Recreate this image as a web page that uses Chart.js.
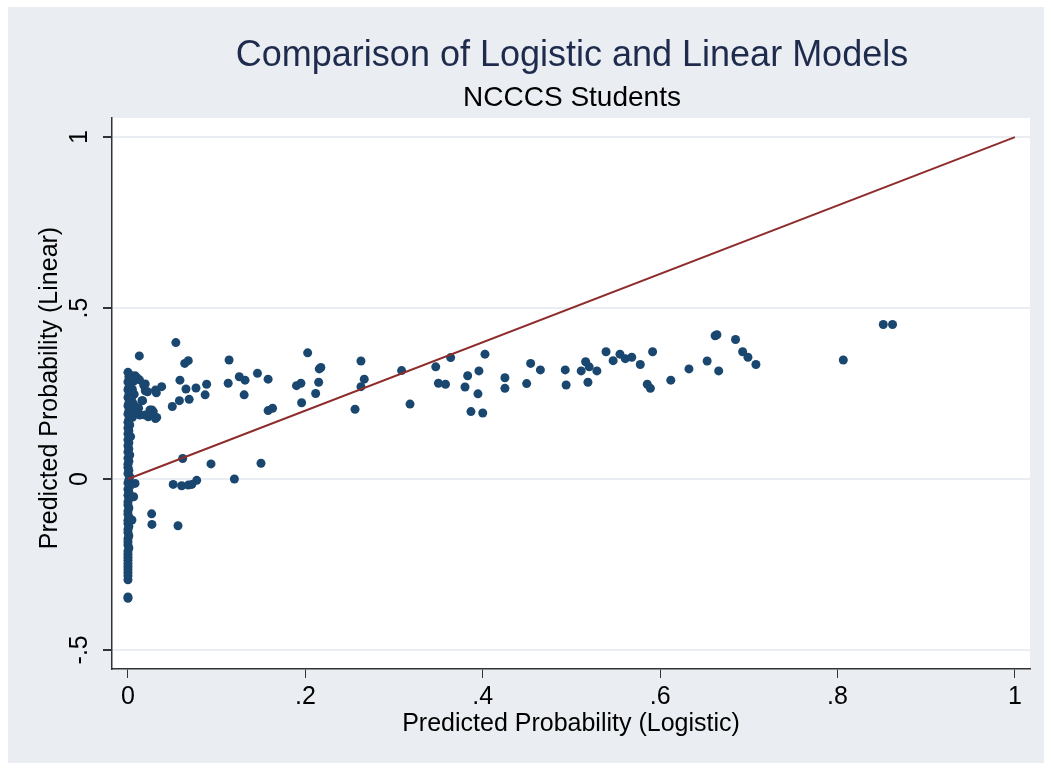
<!DOCTYPE html>
<html>
<head>
<meta charset="utf-8">
<script src="https://cdn.jsdelivr.net/npm/chart.js@4/dist/chart.umd.min.js"></script>
<style>
  html, body { margin: 0; padding: 0; background: #ffffff; }
  #wrap { width: 1044px; height: 763px; }
</style>
</head>
<body>
<div id="wrap"><canvas id="chart" width="1044" height="763"></canvas></div>
<script>
// ---- data ----
// predicted probability from the logistic model (x) and from the linear model (y)
const predLogistic = [
    // column at ~0
    0.000, 0.002, 0.001, 0.003, 0.000, 0.002, 0.001, 0.000, 0.003, 0.001,
    0.000, 0.002, 0.001, 0.000, 0.003, 0.001, 0.000, 0.002, 0.001, 0.000,
    0.002, 0.000, 0.001, 0.000, 0.002, 0.000, 0.001, 0.000, 0.001, 0.000,
    0.002, 0.000, 0.001, 0.000, 0.000, 0.001, 0.000, 0.002, 0.001, 0.000,
    0.002, 0.000, 0.001, 0.000, 0.001, 0.000, 0.000, 0.001, 0.000, 0.000,
    0.001, 0.000, 0.000, 0.001, 0.000, 0.000, 0.001, 0.000, 0.000, 0.000,
    0.001, 0.000, 0.000, 0.000, 0.000, 0.000, 0.000, 0.000, 0.000, 0.000,
    0.000, 0.000, 0.000,
    // bulge near the top of the column
    0.004, 0.008, 0.010, 0.013, 0.006, 0.005, 0.007, 0.004, 0.006, 0.008,
    0.012, 0.0135, 0.009, 0.005, 0.0026, 0.003, 0.008, 0.0064, 0.0045,
    0.0128, 0.0177, 0.0195, 0.031, 0.038, 0.0158, 0.010, 0.0195, 0.027, 0.031,
    0.0195, 0.022, 0.032, 0.0165, 0.0248, 0.0285, 0.0229, 0.0324,
    // rest of the cloud, left part
    0.054, 0.0586, 0.064, 0.068, 0.0654, 0.058, 0.050, 0.069, 0.0767, 0.0887,
    0.087, 0.114, 0.113, 0.1255, 0.132, 0.131, 0.146, 0.158, 0.158, 0.163,
    0.0617, 0.0936, 0.150, 0.120, 0.051, 0.0605, 0.068, 0.072, 0.0775,
    0.0267, 0.027, 0.0564,
    // middle
    0.2026, 0.190, 0.195, 0.2157, 0.2175, 0.215, 0.2116, 0.1958, 0.2627, 0.2664,
    0.2627, 0.256, 0.3085, 0.318, 0.347, 0.350, 0.358, 0.3638, 0.383, 0.380,
    0.3957, 0.3946, 0.3867, 0.400, 0.4025,
    // right part
    0.425, 0.425, 0.4495, 0.454, 0.465, 0.493, 0.494, 0.511, 0.516, 0.520,
    0.5186, 0.5287, 0.539, 0.547, 0.5547, 0.5607, 0.568, 0.5776, 0.5915, 0.5855,
    0.589, 0.612, 0.6325, 0.653, 0.662, 0.664, 0.666, 0.685, 0.693, 0.699,
    0.708, 0.8065, 0.8516, 0.862
];
const predLinear = [
    0.312, 0.305, 0.298, 0.291, 0.284, 0.277, 0.268, 0.261, 0.253, 0.246,
    0.238, 0.231, 0.222, 0.214, 0.207, 0.199, 0.190, 0.183, 0.174, 0.166,
    0.158, 0.149, 0.141, 0.132, 0.124, 0.115, 0.106, 0.097, 0.088, 0.079,
    0.070, 0.061, 0.052, 0.043, 0.034, 0.025, 0.016, 0.007, -0.003, -0.012,
    -0.021, -0.030, -0.039, -0.048, -0.058, -0.067, -0.076, -0.085, -0.094, -0.103,
    -0.112, -0.121, -0.130, -0.139, -0.148, -0.157, -0.166, -0.175, -0.184, -0.193,
    -0.202, -0.211, -0.220, -0.229, -0.238, -0.247, -0.256, -0.265, -0.274, -0.283,
    -0.295, -0.345, -0.349,
    0.300, 0.302, 0.296, 0.290, 0.285, 0.262, 0.248, 0.235, 0.220, 0.212,
    0.207, 0.187, 0.195, 0.180, -0.018, 0.124, -0.013, -0.052, -0.120,
    0.360, 0.275, 0.258, 0.260, 0.270, 0.229, 0.202, 0.187, 0.202, 0.177,
    0.278, 0.255, 0.252, 0.229, 0.202, 0.197, 0.182, 0.180,
    0.399, 0.289, 0.338, 0.346, 0.263, 0.229, 0.212, 0.233, 0.266, 0.277,
    0.246, 0.348, 0.280, 0.299, 0.289, 0.246, 0.309, 0.292, 0.200, 0.207,
    0.060, 0.044, 0.046, 0.000, -0.016, -0.020, -0.018, -0.016, -0.004,
    -0.102, -0.133, -0.137,
    0.369, 0.273, 0.280, 0.322, 0.326, 0.283, 0.250, 0.223, 0.345, 0.292,
    0.270, 0.204, 0.317, 0.219, 0.328, 0.280, 0.277, 0.355, 0.302, 0.269,
    0.316, 0.249, 0.197, 0.193, 0.365,
    0.296, 0.265, 0.279, 0.338, 0.319, 0.319, 0.275, 0.316, 0.343, 0.328,
    0.283, 0.316, 0.372, 0.346, 0.365, 0.352, 0.356, 0.335, 0.372, 0.277,
    0.265, 0.289, 0.322, 0.345, 0.419, 0.422, 0.316, 0.408, 0.372, 0.356,
    0.335, 0.348, 0.452, 0.452
];
// 45 degree reference line
const refX = [0, 1];
const refY = [0, 1];

const xTickValues = [0, 0.2, 0.4, 0.6, 0.8, 1];
const yTickValues = [-0.5, 0, 0.5, 1];

const titleText = 'Comparison of Logistic and Linear Models';
const subtitleText = 'NCCCS Students';
const xTitle = 'Predicted Probability (Logistic)';
const yTitle = 'Predicted Probability (Linear)';

const FONT = '"Liberation Sans", Arial, sans-serif';
const BG = '#eaeef3';

// stata style numbers: .2, -.5
function fmt(v) {
    let s = String(Math.round(v * 100) / 100);
    return s.replace(/^0\./, '.').replace(/^-0\./, '-.');
}

const backdrop = {
    id: 'backdrop',
    beforeDraw(chart) {
        const { ctx, chartArea } = chart;
        ctx.save();
        ctx.fillStyle = '#ffffff';
        ctx.fillRect(0, 0, chart.width, chart.height);
        ctx.fillStyle = BG;
        ctx.fillRect(8, 7, chart.width - 8, chart.height - 7);
        ctx.fillStyle = '#ffffff';
        ctx.fillRect(chartArea.left, chartArea.top, chartArea.right - chartArea.left, chartArea.bottom - chartArea.top);
        ctx.restore();
    }
};

const texts = {
    id: 'texts',
    afterDraw(chart) {
        const ctx = chart.ctx;
        const yScale = chart.scales.y;
        ctx.save();
        ctx.textAlign = 'center';
        ctx.textBaseline = 'middle';

        ctx.fillStyle = '#1e2b4d';
        ctx.font = '36px ' + FONT;
        ctx.fillText(titleText, 572, 56);

        ctx.fillStyle = '#000000';
        ctx.font = '28px ' + FONT;
        ctx.fillText(subtitleText, 572, 98);

        ctx.font = '25px ' + FONT;
        ctx.fillText(xTitle, 571, 724);

        // rotated y texts
        yScale.ticks.forEach(t => {
            const py = yScale.getPixelForValue(t.value);
            ctx.save();
            ctx.translate(80, py);
            ctx.rotate(-Math.PI / 2);
            ctx.font = '25px ' + FONT;
            ctx.fillText(fmt(t.value), 0, 0);
            ctx.restore();
        });

        ctx.save();
        ctx.translate(50, 388);
        ctx.rotate(-Math.PI / 2);
        ctx.font = '25px ' + FONT;
        ctx.fillText(yTitle, 0, 0);
        ctx.restore();

        ctx.restore();
    }
};

const points = predLogistic.map((x, i) => ({ x: x, y: predLinear[i] }));
const refLine = refX.map((x, i) => ({ x: x, y: refY[i] }));

new Chart(document.getElementById('chart'), {
    type: 'scatter',
    data: {
        datasets: [
            {
                label: 'Linear',
                data: points,
                backgroundColor: '#1a476f',
                borderColor: '#1a476f',
                borderWidth: 0,
                pointRadius: 4.5,
                order: 1
            },
            {
                type: 'line',
                label: '45 degree',
                data: refLine,
                borderColor: '#8e2c2c',
                borderWidth: 2,
                pointRadius: 0,
                fill: false,
                order: 0
            }
        ]
    },
    options: {
        responsive: false,
        devicePixelRatio: 1,
        animation: false,
        layout: { padding: { top: 118, right: 14, left: 0, bottom: 0 } },
        plugins: { legend: { display: false }, tooltip: { enabled: false } },
        scales: {
            x: {
                type: 'linear',
                min: -0.018,
                max: 1.017,
                afterBuildTicks: (scale) => { scale.ticks = xTickValues.map(v => ({ value: v })); },
                afterFit: (scale) => { scale.height = 94; },
                ticks: {
                    color: '#000000',
                    font: { family: FONT, size: 25 },
                    padding: 4,
                    maxRotation: 0,
                    callback: (v) => fmt(v)
                },
                grid: { drawOnChartArea: false, tickLength: 9, tickColor: '#333333', lineWidth: 1 },
                border: { color: '#333333', width: 1.5 }
            },
            y: {
                type: 'linear',
                min: -0.556,
                max: 1.056,
                afterBuildTicks: (scale) => { scale.ticks = yTickValues.map(v => ({ value: v })); },
                afterFit: (scale) => { scale.width = 112; },
                ticks: { display: false },
                grid: { color: BG, lineWidth: 2, tickLength: 9, tickColor: '#333333' },
                border: { color: '#333333', width: 1.5 }
            }
        }
    },
    plugins: [backdrop, texts]
});
</script>
</body>
</html>
